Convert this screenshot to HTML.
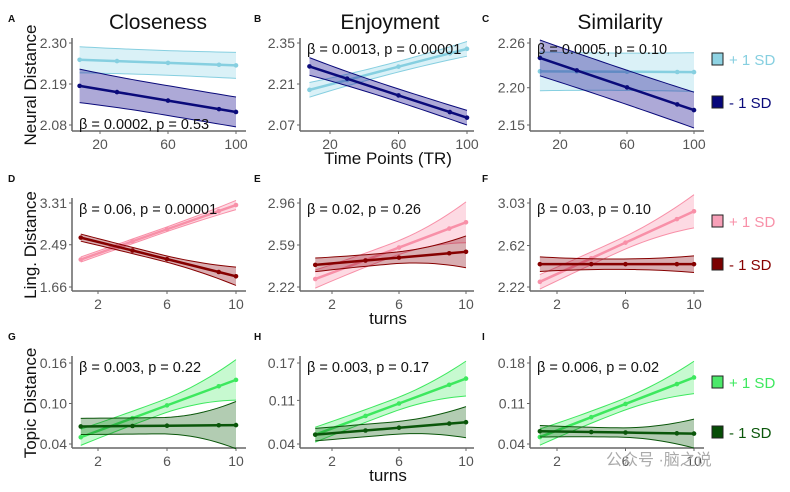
<!DOCTYPE html>
<html><head><meta charset="utf-8"><style>
body{margin:0;background:#fff;}
svg{display:block;font-family:"Liberation Sans","Noto Sans CJK SC",sans-serif;}
</style></head><body>
<svg id="c" width="790" height="492"></svg>
<script>
// ---- data ----
const trX = [8, 30, 60, 90, 100];
const turnX = [1, 4, 6, 9, 10];
const colTitles = ["Closeness", "Enjoyment", "Similarity"];
const rowTitles = ["Neural Distance", "Ling. Distance", "Topic Distance"];
const panelLetters = ["A","B","C","D","E","F","G","H","I"];
const annotations = ["β = 0.0002, p = 0.53","β = 0.0013, p = 0.00001","β = 0.0005, p = 0.10",
  "β = 0.06, p = 0.00001","β = 0.02, p = 0.26","β = 0.03, p = 0.10",
  "β = 0.003, p = 0.22","β = 0.003, p = 0.17","β = 0.006, p = 0.02"];
const yTicks = [[2.08,2.19,2.30],[2.07,2.21,2.35],[2.15,2.20,2.26],
  [1.66,2.49,3.31],[2.22,2.59,2.96],[2.22,2.62,3.03],
  [0.04,0.10,0.16],[0.04,0.11,0.17],[0.04,0.11,0.18]];
const xTicksTR = [20, 60, 100];
const xTicksTurn = [2, 6, 10];
// +1 SD series: mean at first/last x, CI half-width at start / middle / end
const highStart = [2.255,2.19,2.222, 2.20,2.29,2.27, 0.05,0.055,0.052];
const highEnd   = [2.240,2.33,2.221, 3.27,2.79,2.95, 0.135,0.145,0.155];
const highSE0   = [0.035,0.025,0.026, 0.05,0.08,0.07, 0.012,0.012,0.014];
const highSEm   = [0.033,0.018,0.025, 0.045,0.06,0.06, 0.01,0.01,0.01];
const highSE1   = [0.035,0.025,0.026, 0.09,0.18,0.16, 0.03,0.028,0.028];
// -1 SD series
const lowStart  = [2.185,2.27,2.240, 2.63,2.415,2.44, 0.066,0.055,0.062];
const lowEnd    = [2.115,2.095,2.170, 1.87,2.53,2.44, 0.068,0.075,0.058];
const lowSE0    = [0.045,0.03,0.024, 0.07,0.06,0.07, 0.012,0.01,0.01];
const lowSEm    = [0.04,0.022,0.023, 0.06,0.05,0.05, 0.012,0.01,0.008];
const lowSE1    = [0.04,0.025,0.024, 0.18,0.14,0.08, 0.035,0.025,0.025];
const legendLabels = ["+ 1 SD", "- 1 SD"];
// ---- layout ----
const NS="http://www.w3.org/2000/svg";
const svg=document.getElementById('c');
function el(t,a,p){const e=document.createElementNS(NS,t);for(const k in a)e.setAttribute(k,a[k]);(p||svg).appendChild(e);return e;}
const cols=[{ax:72,tr:[100,236],tu:[98,236]},{ax:300,tr:[330,467],tu:[332,466]},{ax:530,tr:[560,694],tu:[557,694]}];
const rows=[{top:38,bot:131,tp:[125,83,43]},{top:198,bot:291,tp:[287,244,203]},{top:356,bot:448,tp:[444,403,363]}];
const colors=[{hi:"#86cfe0",hiF:"rgba(150,215,232,0.35)",lo:"#0a0a7a",loF:"rgba(40,30,150,0.38)",hiB:"#8fd3e3",loB:"#06067a"},
 {hi:"#f890a8",hiF:"rgba(250,150,175,0.35)",lo:"#860000",loF:"rgba(140,10,20,0.33)",hiB:"#f7a0b8",loB:"#7a0000"},
 {hi:"#3de85e",hiF:"rgba(70,235,100,0.3)",lo:"#0a560a",loF:"rgba(20,100,20,0.33)",hiB:"#4ce86a",loB:"#064d06"}];
for(let r=0;r<3;r++)for(let c=0;c<3;c++){
  const i=r*3+c, col=cols[c], row=rows[r], tk=yTicks[i];
  const isTR=r===0, xs=isTR?trX:turnX, xt=isTR?xTicksTR:xTicksTurn, xp=isTR?col.tr:col.tu;
  const X=v=>xp[0]+(v-xt[0])*(xp[1]-xp[0])/(xt[2]-xt[0]);
  const Y=v=>row.tp[0]+(v-tk[0])*(row.tp[2]-row.tp[0])/(tk[2]-tk[0]);
  const g=el('g',{});  
  el('line',{x1:col.ax,y1:row.top,x2:col.ax,y2:row.bot,stroke:"#666","stroke-width":1.5},g);
  el('line',{x1:col.ax,y1:row.bot,x2:col.ax+174,y2:row.bot,stroke:"#666","stroke-width":1.5},g);
  tk.forEach(t=>{const y=Y(t);el('line',{x1:col.ax-3,y1:y,x2:col.ax,y2:y,stroke:"#666"},g);
    const tx=el('text',{x:col.ax-5,y:y+5,"text-anchor":"end","font-size":14,fill:"#555"},g);tx.textContent=t.toFixed(2);
    });
  xt.forEach(t=>{const x=X(t);el('line',{x1:x,y1:row.bot,x2:x,y2:row.bot+3,stroke:"#666"},g);
    const tx=el('text',{x:x,y:row.bot+18,"text-anchor":"middle","font-size":14,fill:"#555"},g);tx.textContent=t;
    });
  const x0=xs[0],x1=xs[xs.length-1],xm=(x0+x1)/2;
  const series=[[highStart[i],highEnd[i],highSE0[i],highSEm[i],highSE1[i],colors[r].hi,colors[r].hiF,'high-sd'],
                [lowStart[i],lowEnd[i],lowSE0[i],lowSEm[i],lowSE1[i],colors[r].lo,colors[r].loF,'low-sd']];
  const samples=[];for(let k=0;k<=24;k++)samples.push(x0+(x1-x0)*k/24);
  series.forEach(s=>{
    const m=v=>s[0]+(s[1]-s[0])*(v-x0)/(x1-x0);
    const se=v=>{const a=(v-xm)/(xm-x0);return a<0? s[3]+(s[2]-s[3])*a*a : s[3]+(s[4]-s[3])*a*a;};
    const up=samples.map(v=>X(v)+','+Y(m(v)+se(v))), dn=samples.slice().reverse().map(v=>X(v)+','+Y(m(v)-se(v)));
    const band=el('polygon',{points:up.concat(dn).join(' '),fill:s[6],stroke:"none"},g);
    
    el('polyline',{points:up.join(' '),fill:"none",stroke:s[5],"stroke-width":1},g);
    el('polyline',{points:dn.join(' '),fill:"none",stroke:s[5],"stroke-width":1},g);
    const ln=el('polyline',{points:xs.map(v=>X(v)+','+Y(m(v))).join(' '),fill:"none",stroke:s[5],"stroke-width":2.5},g);
    
    xs.forEach(v=>{const p=el('circle',{cx:X(v),cy:Y(m(v)),r:2.3,fill:s[5]},g);
      });
  });
  const ay=(i===0)?row.bot-2:row.top+16;
  const an=el('text',{x:col.ax+7,y:ay,"font-size":14.5,fill:"#111"},g);an.textContent=annotations[i];
  
  const lt=el('text',{x:[8,254,482][c],y:row.top-16,"font-size":10,"font-weight":"bold",fill:"#111"},g);lt.textContent=panelLetters[i];
  
}
colTitles.forEach((t,c)=>{const e=el('text',{x:[158,390,620][c],y:29,"text-anchor":"middle","font-size":21,fill:"#111"});e.textContent=t;
  });
rowTitles.forEach((t,r)=>{const cy=[85,245,403][r];const e=el('text',{x:0,y:0,transform:`translate(36,${cy}) rotate(-90)`,"text-anchor":"middle","font-size":17,fill:"#111"});e.textContent=t;
  });
[["Time Points (TR)",164],["turns",324],["turns",481]].forEach(a=>{const e=el('text',{x:388,y:a[1],"text-anchor":"middle","font-size":17,fill:"#111"});e.textContent=a[0];
  });
const legY=[[60,103],[222,265],[383,433]];
for(let r=0;r<3;r++)for(let k=0;k<2;k++){
  const y=legY[r][k], fill=k?colors[r].loB:colors[r].hiB, tc=k?colors[r].lo:colors[r].hi;
  const g=el('g',{});
  el('rect',{x:712,y:y-7,width:11,height:12,fill:fill,stroke:"#222","stroke-width":1},g);
  const t=el('text',{x:729,y:y+5,"font-size":15,fill:tc},g);t.textContent=legendLabels[k];
}
const wm=el('text',{x:606,y:465,"font-size":16,fill:"#aaa"});wm.textContent="公众号 ·脑之说";

</script>
</body></html>
